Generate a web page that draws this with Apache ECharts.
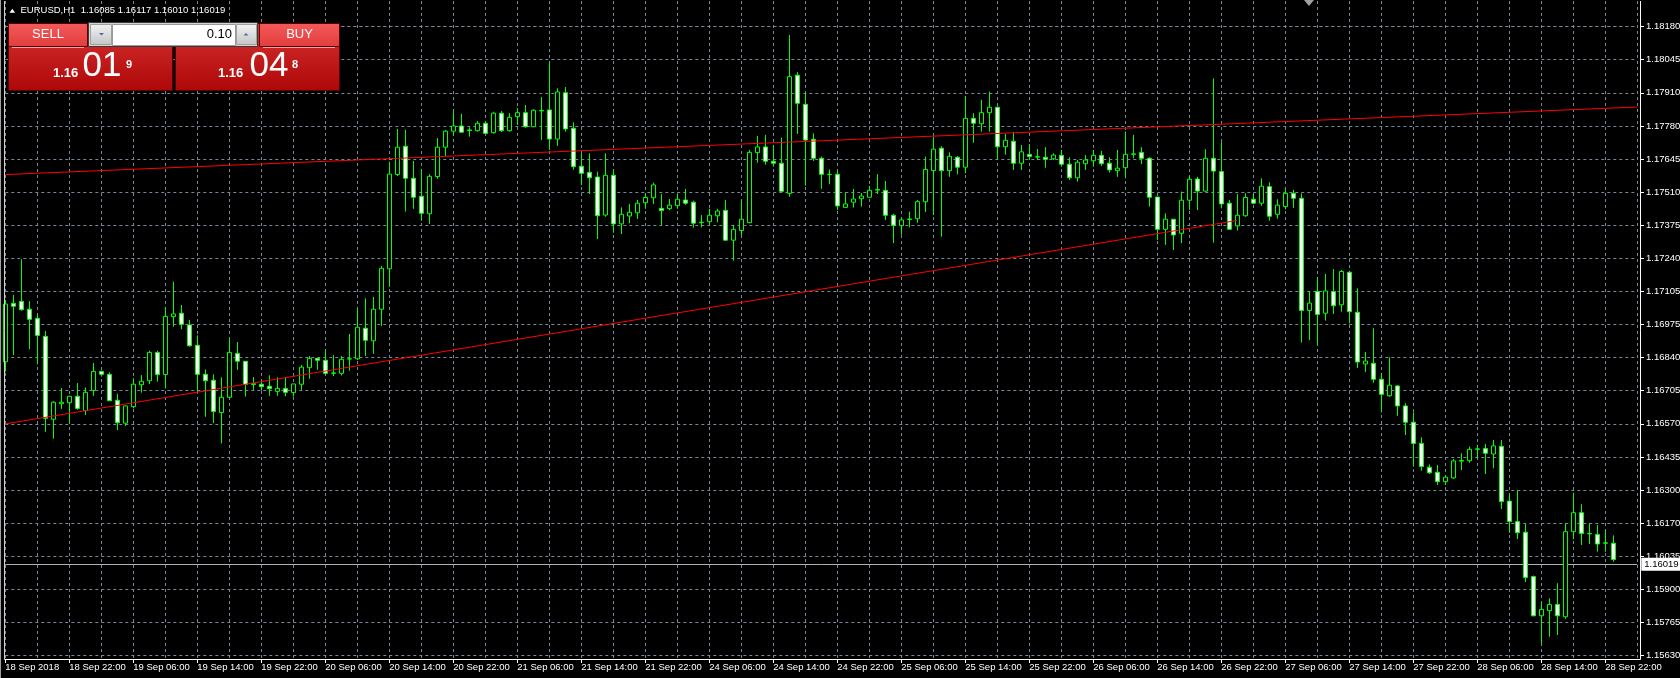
<!DOCTYPE html>
<html><head><meta charset="utf-8">
<script src="https://cdn.jsdelivr.net/npm/echarts@6/dist/echarts.min.js"></script>
<style>html,body{margin:0;padding:0;background:#000;}#c{width:1680px;height:678px;}</style>
</head><body><div id="c"></div>
<script>
// ---------- DATA ----------
const symbolTitle = 'EURUSD,H1';
const headerPrices = ['1.16085', '1.16117', '1.16010', '1.16019'];

const opens = [
1.16821,1.17058,1.17066,1.17034,1.16997,1.16924,1.16588,1.16651,1.16655,1.16681,
1.16623,1.16705,1.16782,1.16770,1.16665,1.16572,1.16639,1.16728,1.16744,1.16859,
1.16769,1.17004,1.17018,1.16970,1.16888,1.16770,1.16746,1.16615,1.16677,1.16855,
1.16823,1.16729,1.16730,1.16722,1.16701,1.16713,1.16696,1.16730,1.16797,1.16835,
1.16827,1.16774,1.16774,1.16832,1.16833,1.16957,1.16906,1.17034,1.17198,1.17580,
1.17695,1.17565,1.17492,1.17421,1.17572,1.17691,1.17756,1.17777,1.17761,1.17758,
1.17788,1.17750,1.17829,1.17758,1.17815,1.17831,1.17774,1.17838,1.17842,1.17724,
1.17912,1.17768,1.17614,1.17589,1.17570,1.17416,1.17577,1.17380,1.17412,1.17425,
1.17466,1.17486,1.17443,1.17442,1.17454,1.17477,1.17468,1.17385,1.17389,1.17413,
1.17435,1.17314,1.17353,1.17385,1.17669,1.17692,1.17634,1.17626,1.17504,1.17983,
1.17865,1.17723,1.17646,1.17580,1.17581,1.17447,1.17468,1.17482,1.17488,1.17517,
1.17516,1.17415,1.17373,1.17398,1.17401,1.17470,1.17596,1.17687,1.17596,1.17650,
1.17610,1.17808,1.17786,1.17831,1.17853,1.17693,1.17715,1.17626,1.17662,1.17652,
1.17650,1.17644,1.17658,1.17622,1.17567,1.17624,1.17636,1.17658,1.17626,1.17596,
1.17608,1.17662,1.17670,1.17646,1.17489,1.17358,1.17399,1.17342,1.17476,1.17562,
1.17513,1.17646,1.17592,1.17464,1.17372,1.17413,1.17480,1.17464,1.17531,1.17419,
1.17450,1.17504,1.17484,1.17029,1.17106,1.17018,1.17106,1.17052,1.17184,1.17022,
1.16812,1.16815,1.16750,1.16683,1.16723,1.16642,1.16576,1.16490,1.16393,1.16373,
1.16335,1.16350,1.16418,1.16420,1.16466,1.16469,1.16447,1.16478,1.16256,1.16173,
1.16130,1.15950,1.15791,1.15812,1.15837,1.15787,1.16132,1.16209,1.16123,1.16121,
1.16085,1.16085];

const highs = [
1.17072,1.17092,1.17237,1.17067,1.17015,1.16946,1.16661,1.16715,1.16683,1.16735,
1.16717,1.16816,1.16785,1.16778,1.16691,1.16642,1.16754,1.16767,1.16866,1.16866,
1.17043,1.17146,1.17051,1.16990,1.16928,1.16790,1.16770,1.16758,1.16916,1.16901,
1.16823,1.16759,1.16744,1.16766,1.16758,1.16758,1.16731,1.16808,1.16844,1.16835,
1.16869,1.16848,1.16844,1.16934,1.17038,1.17078,1.17084,1.17209,1.17632,1.17765,
1.17761,1.17635,1.17603,1.17582,1.17728,1.17761,1.17842,1.17826,1.17772,1.17797,
1.17797,1.17835,1.17838,1.17829,1.17849,1.17862,1.17845,1.17894,1.18037,1.17930,
1.17935,1.17792,1.17666,1.17666,1.17592,1.17666,1.17601,1.17447,1.17461,1.17477,
1.17504,1.17547,1.17501,1.17481,1.17501,1.17522,1.17474,1.17416,1.17441,1.17441,
1.17477,1.17376,1.17477,1.17680,1.17737,1.17741,1.17700,1.17730,1.18146,1.17995,
1.17910,1.17747,1.17653,1.17601,1.17596,1.17508,1.17522,1.17505,1.17534,1.17582,
1.17554,1.17421,1.17407,1.17430,1.17477,1.17653,1.17734,1.17695,1.17670,1.17655,
1.17899,1.17829,1.17883,1.17916,1.17856,1.17745,1.17753,1.17700,1.17704,1.17684,
1.17691,1.17666,1.17680,1.17650,1.17639,1.17659,1.17680,1.17676,1.17650,1.17680,
1.17754,1.17741,1.17691,1.17650,1.17489,1.17423,1.17399,1.17511,1.17574,1.17571,
1.17683,1.17970,1.17713,1.17477,1.17501,1.17504,1.17504,1.17565,1.17549,1.17480,
1.17524,1.17518,1.17504,1.17105,1.17163,1.17177,1.17197,1.17193,1.17190,1.17119,
1.16861,1.16957,1.16774,1.16839,1.16727,1.16653,1.16616,1.16515,1.16405,1.16402,
1.16362,1.16427,1.16450,1.16477,1.16484,1.16488,1.16504,1.16504,1.16284,1.16301,
1.16163,1.15954,1.15846,1.15862,1.15923,1.16166,1.16290,1.16243,1.16166,1.16159,
1.16139,1.16117];

const lows = [
1.16781,1.16848,1.17028,1.16872,1.16811,1.16537,1.16509,1.16630,1.16572,1.16626,
1.16605,1.16683,1.16761,1.16662,1.16544,1.16561,1.16632,1.16696,1.16731,1.16740,
1.16713,1.16963,1.16953,1.16882,1.16697,1.16598,1.16572,1.16490,1.16674,1.16788,
1.16680,1.16707,1.16704,1.16683,1.16683,1.16681,1.16680,1.16707,1.16752,1.16788,
1.16767,1.16763,1.16765,1.16785,1.16828,1.16844,1.16853,1.16966,1.17125,1.17574,
1.17430,1.17441,1.17393,1.17380,1.17563,1.17655,1.17737,1.17750,1.17734,1.17754,
1.17745,1.17746,1.17752,1.17754,1.17781,1.17770,1.17772,1.17720,1.17680,1.17696,
1.17754,1.17600,1.17538,1.17501,1.17319,1.17409,1.17344,1.17339,1.17383,1.17400,
1.17441,1.17461,1.17373,1.17436,1.17441,1.17457,1.17365,1.17366,1.17376,1.17387,
1.17312,1.17231,1.17335,1.17383,1.17628,1.17620,1.17612,1.17511,1.17490,1.17745,
1.17535,1.17635,1.17522,1.17541,1.17436,1.17446,1.17446,1.17450,1.17486,1.17501,
1.17396,1.17302,1.17336,1.17366,1.17385,1.17428,1.17416,1.17328,1.17571,1.17581,
1.17585,1.17709,1.17754,1.17754,1.17642,1.17661,1.17599,1.17599,1.17639,1.17639,
1.17608,1.17639,1.17612,1.17558,1.17551,1.17599,1.17612,1.17615,1.17588,1.17571,
1.17565,1.17646,1.17623,1.17450,1.17315,1.17295,1.17274,1.17302,1.17436,1.17436,
1.17511,1.17304,1.17443,1.17355,1.17353,1.17409,1.17461,1.17453,1.17393,1.17401,
1.17439,1.17445,1.16899,1.16909,1.16889,1.16988,1.17015,1.17024,1.16977,1.16796,
1.16780,1.16736,1.16616,1.16679,1.16602,1.16524,1.16396,1.16379,1.16366,1.16321,
1.16321,1.16346,1.16382,1.16412,1.16430,1.16366,1.16389,1.16224,1.16128,1.16102,
1.15928,1.15789,1.15679,1.15706,1.15713,1.15778,1.16101,1.16078,1.16082,1.16051,
1.16051,1.16010];

const closes = [
1.17055,1.17046,1.17032,1.16993,1.16928,1.16592,1.16657,1.16657,1.16681,1.16632,
1.16697,1.16782,1.16770,1.16663,1.16574,1.16642,1.16730,1.16742,1.16859,1.16769,
1.17005,1.17015,1.16973,1.16886,1.16770,1.16744,1.16619,1.16677,1.16859,1.16823,
1.16729,1.16732,1.16720,1.16712,1.16713,1.16697,1.16731,1.16799,1.16835,1.16827,
1.16774,1.16776,1.16831,1.16833,1.16961,1.16908,1.17034,1.17200,1.17582,1.17691,
1.17565,1.17488,1.17423,1.17573,1.17691,1.17756,1.17777,1.17752,1.17759,1.17788,
1.17747,1.17829,1.17758,1.17812,1.17831,1.17774,1.17841,1.17840,1.17724,1.17915,
1.17765,1.17612,1.17585,1.17567,1.17413,1.17577,1.17380,1.17419,1.17427,1.17464,
1.17487,1.17538,1.17434,1.17456,1.17480,1.17464,1.17383,1.17387,1.17415,1.17432,
1.17314,1.17358,1.17399,1.17670,1.17692,1.17634,1.17626,1.17512,1.17977,1.17869,
1.17720,1.17646,1.17581,1.17581,1.17453,1.17461,1.17481,1.17493,1.17516,1.17520,
1.17415,1.17374,1.17396,1.17400,1.17470,1.17601,1.17683,1.17596,1.17654,1.17610,
1.17808,1.17788,1.17831,1.17853,1.17693,1.17719,1.17626,1.17672,1.17653,1.17651,
1.17642,1.17659,1.17622,1.17567,1.17630,1.17639,1.17658,1.17624,1.17599,1.17606,
1.17662,1.17664,1.17646,1.17488,1.17358,1.17399,1.17335,1.17476,1.17561,1.17513,
1.17646,1.17594,1.17461,1.17358,1.17415,1.17487,1.17464,1.17533,1.17411,1.17456,
1.17504,1.17484,1.17029,1.17059,1.17013,1.17108,1.17048,1.17187,1.17024,1.16820,
1.16824,1.16750,1.16689,1.16726,1.16642,1.16576,1.16490,1.16396,1.16371,1.16335,
1.16353,1.16419,1.16421,1.16466,1.16468,1.16450,1.16480,1.16254,1.16173,1.16128,
1.15946,1.15791,1.15817,1.15837,1.15791,1.16132,1.16209,1.16125,1.16125,1.16082,
1.16087,1.16019];

// y tick labels, bottom to top
const yTickLabels = ['1.15630','1.15765','1.15900','1.16035','1.16170','1.16300','1.16435',
  '1.16570','1.16705','1.16840','1.16975','1.17105','1.17240','1.17375','1.17510','1.17645',
  '1.17780','1.17910','1.18045','1.18180'];
// x tick labels, one every 8 hourly bars
const xTickLabels = ['18 Sep 2018','18 Sep 22:00','19 Sep 06:00','19 Sep 14:00','19 Sep 22:00',
  '20 Sep 06:00','20 Sep 14:00','20 Sep 22:00','21 Sep 06:00','21 Sep 14:00','21 Sep 22:00',
  '24 Sep 06:00','24 Sep 14:00','24 Sep 22:00','25 Sep 06:00','25 Sep 14:00','25 Sep 22:00',
  '26 Sep 06:00','26 Sep 14:00','26 Sep 22:00','27 Sep 06:00','27 Sep 14:00','27 Sep 22:00',
  '28 Sep 06:00','28 Sep 14:00','28 Sep 22:00'];

const upperTrend = [[0, 1.17580], [204, 1.17854]];
const lowerTrend = [[0, 1.16569], [154, 1.17394]];
const bidPrice = 1.16019;
const bidLabel = '1.16019';
const lotSize = '0.10';
const sellQuote = ['1.16', '01', '9'];
const buyQuote = ['1.16', '04', '8'];

// ---------- CHART ----------
const FONT = 'Liberation Sans';
const nCats = 205;              // 202 bars + empty shift area
const cats = Array.from({length: nCats}, (_, i) => String(i));
const yMin = 1.15630, yStep = 0.0013421, yMax = yMin + 19 * yStep;
const candles = opens.map((o, i) => [o, closes[i], lows[i], highs[i]]);

const chart = echarts.init(document.getElementById('c'), null, {renderer: 'canvas'});
const grad = (a, b) => new echarts.graphic.LinearGradient(0, 0, 0, 1, [{offset: 0, color: a}, {offset: 1, color: b}]);
const GRID_COLOR = '#778899';

const graphics = [
  // frame
  {type: 'line', shape: {x1: 0.5, y1: 0, x2: 0.5, y2: 678}, style: {stroke: '#a0a0a0', lineWidth: 1}, z: 10},
  {type: 'line', shape: {x1: 4.5, y1: 1, x2: 4.5, y2: 659.5}, style: {stroke: '#d0d0d0', lineWidth: 1}, z: 10},
  {type: 'line', shape: {x1: 1640.5, y1: 1, x2: 1640.5, y2: 659.5}, style: {stroke: '#ffffff', lineWidth: 1}, z: 10},
  {type: 'line', shape: {x1: 4.5, y1: 659.5, x2: 1640.5, y2: 659.5}, style: {stroke: '#ffffff', lineWidth: 1}, z: 10},
  // chart shift marker
  {type: 'polygon', shape: {points: [[1304, 0], [1314, 0], [1309, 6]]}, style: {fill: '#a0a0a0'}, z: 10},
  // header
  {type: 'polygon', shape: {points: [[9.5, 12.7], [12.3, 8.8], [15.1, 12.7]]}, style: {fill: '#ffffff'}, z: 10},
  {type: 'text', x: 20.5, y: 10.8, style: {text: symbolTitle + '  ' + headerPrices.join(' '), fill: '#ffffff',
     font: '9.5px ' + FONT, verticalAlign: 'middle', align: 'left'}, z: 10},
  // ---- SELL panel ----
  {type: 'rect', shape: {x: 8.5, y: 23.5, width: 164, height: 67}, style: {fill: grad('#d83232', '#ad0707'), stroke: '#5a0000', lineWidth: 1}, z: 10},
  {type: 'rect', shape: {x: 8.5, y: 23.5, width: 79, height: 23}, style: {fill: grad('#f45a5a', '#e23d3d'), stroke: '#5a0000', lineWidth: 1}, z: 11},
  {type: 'line', shape: {x1: 12, y1: 47.5, x2: 84, y2: 47.5}, style: {stroke: '#f3a3a3', lineWidth: 1}, z: 12},
  {type: 'text', x: 48, y: 34.8, style: {text: 'SELL', fill: '#ffffff', font: '13px ' + FONT, align: 'center', verticalAlign: 'middle'}, z: 12},
  // ---- BUY panel ----
  {type: 'rect', shape: {x: 175.5, y: 23.5, width: 164, height: 67}, style: {fill: grad('#d83232', '#ad0707'), stroke: '#5a0000', lineWidth: 1}, z: 10},
  {type: 'rect', shape: {x: 259.5, y: 23.5, width: 80, height: 23}, style: {fill: grad('#f45a5a', '#e23d3d'), stroke: '#5a0000', lineWidth: 1}, z: 11},
  {type: 'line', shape: {x1: 263, y1: 47.5, x2: 335, y2: 47.5}, style: {stroke: '#f3a3a3', lineWidth: 1}, z: 12},
  {type: 'text', x: 299.5, y: 34.8, style: {text: 'BUY', fill: '#ffffff', font: '13px ' + FONT, align: 'center', verticalAlign: 'middle'}, z: 12},
  // ---- lot spinner ----
  {type: 'rect', shape: {x: 88.5, y: 22.5, width: 169, height: 24}, style: {fill: '#d4d4d4', stroke: '#3a3a3a', lineWidth: 1}, z: 12},
  {type: 'rect', shape: {x: 112.5, y: 24.5, width: 123, height: 21}, style: {fill: '#ffffff', stroke: '#9a9a9a', lineWidth: 1}, z: 13},
  {type: 'rect', shape: {x: 90.5, y: 24.5, width: 21, height: 20}, style: {fill: grad('#f4f4f4', '#c4c4c4'), stroke: '#a0a0a0', lineWidth: 1}, z: 13},
  {type: 'rect', shape: {x: 236.5, y: 24.5, width: 20, height: 20}, style: {fill: grad('#f4f4f4', '#c4c4c4'), stroke: '#a0a0a0', lineWidth: 1}, z: 13},
  {type: 'polygon', shape: {points: [[99, 33], [104, 33], [101.5, 35.5]]}, style: {fill: '#5468a8'}, z: 14},
  {type: 'polygon', shape: {points: [[243.5, 35.5], [248.5, 35.5], [246, 33]]}, style: {fill: '#5468a8'}, z: 14},
  {type: 'text', x: 232, y: 34.8, style: {text: lotSize, fill: '#000000', font: '13px ' + FONT, align: 'right', verticalAlign: 'middle'}, z: 14},
  // ---- quotes ----
  {type: 'text', x: 53, y: 73.2, style: {text: sellQuote[0], fill: '#ffffff', font: 'bold 13px ' + FONT, align: 'left', verticalAlign: 'middle'}, z: 12},
  {type: 'text', x: 82.5, y: 66.5, style: {text: sellQuote[1], fill: '#ffffff', font: '35px ' + FONT, align: 'left', verticalAlign: 'middle'}, z: 12},
  {type: 'text', x: 126, y: 64.5, style: {text: sellQuote[2], fill: '#ffffff', font: 'bold 11px ' + FONT, align: 'left', verticalAlign: 'middle'}, z: 12},
  {type: 'text', x: 218, y: 73.2, style: {text: buyQuote[0], fill: '#ffffff', font: 'bold 13px ' + FONT, align: 'left', verticalAlign: 'middle'}, z: 12},
  {type: 'text', x: 249.5, y: 66.5, style: {text: buyQuote[1], fill: '#ffffff', font: '35px ' + FONT, align: 'left', verticalAlign: 'middle'}, z: 12},
  {type: 'text', x: 292, y: 64.5, style: {text: buyQuote[2], fill: '#ffffff', font: 'bold 11px ' + FONT, align: 'left', verticalAlign: 'middle'}, z: 12}
];

const option = {
  backgroundColor: '#000000',
  animation: false,
  grid: [
    {left: 5.3, right: 42.7, top: 26.6, height: 628.9, containLabel: false, outerBoundsMode: 'none'},
    {left: 5.3, right: 42.7, top: 1, height: 658, containLabel: false, outerBoundsMode: 'none'}
  ],
  xAxis: [
    {gridIndex: 0, type: 'category', data: cats, boundaryGap: false, show: false},
    {gridIndex: 1, type: 'category', data: cats, boundaryGap: false,
     axisLine: {show: true, lineStyle: {color: '#ffffff', width: 1}},
     axisTick: {show: true, interval: (i) => i % 8 === 0, length: 4, lineStyle: {color: '#ffffff'}},
     axisLabel: {show: true, interval: (i) => i % 8 === 0, formatter: (v, i) => xTickLabels[i / 8] || '',
       color: '#ffffff', fontSize: 9.5, fontFamily: FONT, align: 'left', margin: 3, hideOverlap: false},
     splitLine: {show: true, interval: (i) => i % 4 === 0, lineStyle: {color: GRID_COLOR, type: [3, 3], width: 1}}}
  ],
  yAxis: [
    {gridIndex: 0, type: 'value', min: yMin, max: yMax, interval: yStep, position: 'right', offset: 2.7, scale: false,
     axisLine: {show: false},
     axisTick: {show: true, length: 4, lineStyle: {color: '#ffffff'}},
     axisLabel: {show: true, color: '#ffffff', fontSize: 9.5, fontFamily: FONT, margin: 6,
       showMinLabel: true, showMaxLabel: true, hideOverlap: false,
       formatter: (v) => yTickLabels[Math.round((v - yMin) / yStep)] || ''},
     splitLine: {show: true, lineStyle: {color: GRID_COLOR, type: [3, 3], width: 1}}},
    {gridIndex: 1, type: 'value', min: 0, max: 1, show: false, splitLine: {show: false}}
  ],
  series: [
    {type: 'candlestick', xAxisIndex: 0, yAxisIndex: 0, data: candles, barWidth: 4, z: 2,
     itemStyle: {color: '#000000', color0: '#ffffff', borderColor: '#00ff00', borderColor0: '#00ff00',
       borderColorDoji: '#00ff00', borderWidth: 1},
     emphasis: {disabled: true},
     markLine: {silent: true, symbol: ['none', 'none'], animation: false, z: 1,
       data: [{yAxis: bidPrice}],
       lineStyle: {color: '#a9b1ba', type: 'solid', width: 1},
       label: {show: true, position: 'end', formatter: bidLabel, color: '#000000', backgroundColor: '#ffffff',
         fontSize: 9.5, fontFamily: FONT, padding: [2, 3, 1, 3], distance: 4},
       emphasis: {disabled: true}}},
    {type: 'line', xAxisIndex: 0, yAxisIndex: 0, data: upperTrend, symbol: 'none', z: 3,
     lineStyle: {color: '#ff0000', width: 1}, silent: true},
    {type: 'line', xAxisIndex: 0, yAxisIndex: 0, data: lowerTrend, symbol: 'none', z: 3,
     lineStyle: {color: '#ff0000', width: 1}, silent: true}
  ],
  graphic: graphics
};
chart.setOption(option);
</script></body></html>
